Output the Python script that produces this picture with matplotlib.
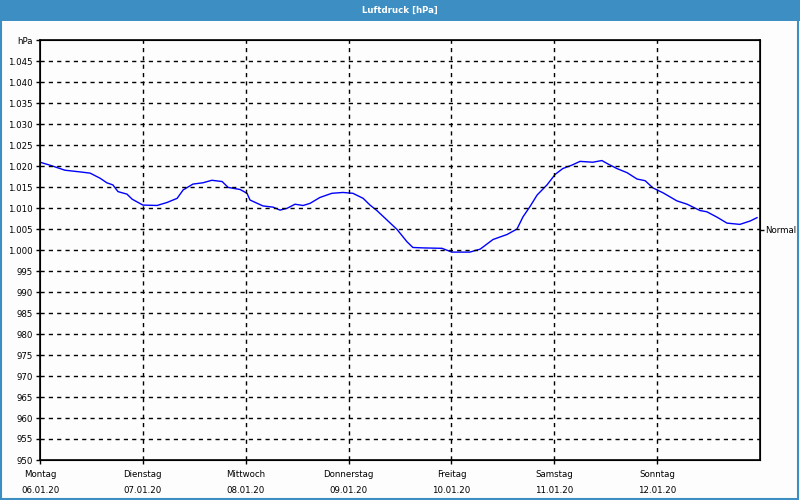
import matplotlib.pyplot as plt
from matplotlib.patches import Rectangle

# Luftdruck-Verlauf, Stunden ab Montag 00:00
hours = [0, 2.3, 5.8, 9.3, 11.7, 14, 15.6, 17, 18.2, 20.3, 21.5, 24, 27.3, 29.6, 32,
         33.4, 35.7, 38, 40.1, 42.5, 43.9, 46.7, 48.3, 49, 52, 54.4, 56, 57.6, 59.5,
         61.4, 63, 65.3, 68.1, 70.7, 73, 75.4, 77, 78.6, 81, 83.3, 85.6, 87, 89.4,
         93.8, 96.1, 100.3, 102.7, 105.7, 109, 111.3, 112.7, 114.3, 116, 118.3, 120.2,
         122, 124.1, 126, 129, 131.1, 132.5, 134.6, 137, 139.3, 141.2, 143, 145.4,
         148.6, 151, 154, 155.6, 158, 160.3, 163.3, 165.7, 167.3]
pressure = [1020.9, 1020.2, 1019.0, 1018.6, 1018.3, 1017.1, 1016.0, 1015.5, 1013.9,
            1013.3, 1012.1, 1010.7, 1010.6, 1011.3, 1012.3, 1014.3, 1015.7, 1016.0,
            1016.6, 1016.3, 1014.9, 1014.4, 1013.5, 1011.9, 1010.5, 1010.2, 1009.5,
            1009.9, 1010.9, 1010.6, 1011.1, 1012.5, 1013.5, 1013.7, 1013.5, 1012.3,
            1010.7, 1009.4, 1007.1, 1004.9, 1002.0, 1000.6, 1000.5, 1000.4, 999.5,
            999.5, 1000.2, 1002.5, 1003.7, 1005.0, 1007.9, 1010.3, 1013.1, 1015.5,
            1018.0, 1019.4, 1020.2, 1021.1, 1020.9, 1021.3, 1020.5, 1019.4, 1018.4,
            1016.9, 1016.5, 1014.8, 1013.6, 1011.7, 1010.9, 1009.4, 1009.1, 1007.8,
            1006.4, 1006.1, 1006.9, 1007.7]

days = ["Montag", "Dienstag", "Mittwoch", "Donnerstag", "Freitag", "Samstag", "Sonntag"]
dates = ["06.01.20", "07.01.20", "08.01.20", "09.01.20", "10.01.20", "11.01.20", "12.01.20"]
normal = 1004.8

bg = "#fcfdfc"
blue_bar = "#3d8fc3"
fs = 6.2

fig = plt.figure(figsize=(8, 5), dpi=100, facecolor=bg)

# Titelleiste und Rahmen
fig.patches.append(Rectangle((0, 0.959), 1, 0.041, transform=fig.transFigure,
                             facecolor=blue_bar, edgecolor="none"))
fig.patches.append(Rectangle((0.001, 0.002), 0.997, 0.996, transform=fig.transFigure,
                             facecolor="none", edgecolor=blue_bar, lw=1.5))
fig.text(0.5, 0.98, "Luftdruck [hPa]", color="white", fontweight="bold",
         fontsize=fs, ha="center", va="center")

ax = fig.add_axes([0.05, 0.08, 0.9, 0.84], facecolor=bg)
ax.plot(hours, pressure, color="#0000ff", lw=1)

ax.set_xlim(0, 168)
ax.set_ylim(950, 1050)

yt = list(range(950, 1051, 5))
ylabels = [f"{v:,}".replace(",", ".") for v in yt]
ylabels[-1] = "hPa"
ax.set_yticks(yt)
ax.set_yticklabels(ylabels, fontsize=fs)

xt = [i * 24 for i in range(7)]
ax.set_xticks(xt)
ax.set_xticklabels([f"{d}\n{t}" for d, t in zip(days, dates)], fontsize=fs, linespacing=2.1)

ax.tick_params(direction="out", length=3, width=1, pad=2, color="black")
ax.tick_params(axis="x", pad=4)

for v in yt[1:-1]:
    ax.axhline(v, color="black", lw=1, ls=(0, (3, 3)))
for x in xt[1:]:
    ax.axvline(x, color="black", lw=1, ls=(0, (3, 3)))

for s in ax.spines.values():
    s.set_linewidth(1.2)

ax2 = ax.twinx()
ax2.set_ylim(950, 1050)
ax2.set_yticks([normal])
ax2.set_yticklabels(["Normal"], fontsize=fs)
ax2.tick_params(direction="out", length=3, width=1, pad=1)

fig.savefig("out.png", dpi=100, facecolor=bg)
